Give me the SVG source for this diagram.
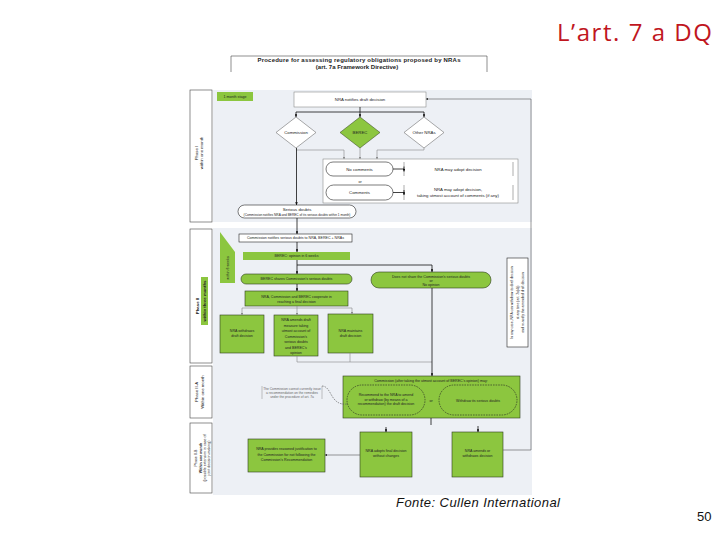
<svg xmlns="http://www.w3.org/2000/svg" width="720" height="540" viewBox="0 0 720 540">
<style>
.t{font-family:"Liberation Sans",Arial,sans-serif;fill:#222;text-anchor:middle}
.s{font-size:4.3px}
.xs{font-size:3.6px}
.g{fill:#8cc63f;stroke:#2e3d1c;stroke-width:0.6}
.gn{fill:#8cc63f}
.w{fill:#fff;stroke:#777;stroke-width:0.5}
.wk{fill:#fff;stroke:#222;stroke-width:0.6}
.ph{fill:#fff;stroke:#444;stroke-width:0.6}
.ln{fill:none;stroke:#111;stroke-width:0.8}
.gl{fill:none;stroke:#888;stroke-width:0.6}
.dash{fill:none;stroke:#222;stroke-width:0.6;stroke-dasharray:1.6 1}
</style>
<defs>
<marker id="a" viewBox="0 0 6 6" refX="6" refY="3" markerWidth="3.5" markerHeight="3.5" orient="auto"><path d="M0,0 L6,3 L0,6 z" fill="#111"/></marker>
<marker id="ag" viewBox="0 0 6 6" refX="6" refY="3" markerWidth="3.5" markerHeight="3.5" orient="auto"><path d="M0,0 L6,3 L0,6 z" fill="#777"/></marker>
</defs>
<rect width="720" height="540" fill="#fff"/>
<text x="557" y="41" font-family="Open Sans,Liberation Sans,sans-serif" font-size="24" fill="#c0161e" textLength="155">L’art. 7 a DQ</text>

<g id="title">
<path d="M231,72 V56 H487 V72" fill="#fff" stroke="#444" stroke-width="0.6"/>
<text class="t" x="359" y="61.5" font-size="6" font-weight="bold" textLength="203">Procedure for assessing regulatory obligations proposed by NRAs</text>
<text class="t" x="357" y="69" font-size="6" font-weight="bold">(art. 7a  Framework Directive)</text>
</g>

<g id="panel">
<rect x="213" y="90" width="319" height="132" fill="#edf0f5"/>
<rect x="213" y="228" width="319" height="267" fill="#edf0f5"/>
</g>

<g id="phase1">
<rect class="ph" x="190" y="90" width="22" height="132"/>
<text class="t s" transform="translate(198,153) rotate(-90)">Phase I</text>
<text class="t s" transform="translate(203,153) rotate(-90)">within one month</text>
</g>
<g id="phase2">
<rect class="ph" x="190" y="229" width="22" height="134"/>
<rect class="gn" x="201" y="277" width="7" height="48"/>
<text class="t s" transform="translate(198.5,306) rotate(-90)" font-weight="bold">Phase II</text>
<text class="t s" transform="translate(206,301) rotate(-90)" font-weight="bold">within three months</text>
</g>
<g id="phase2a">
<rect class="ph" x="190" y="366" width="22" height="52"/>
<text class="t s" transform="translate(198,392) rotate(-90)">Phase II-A</text>
<text class="t s" transform="translate(204,392) rotate(-90)">Within one month</text>
</g>
<g id="phase2b">
<rect class="ph" x="190" y="423" width="22" height="70"/>
<text class="t xs" transform="translate(197,458) rotate(-90)">Phase II-B</text>
<text class="t xs" transform="translate(201.5,458) rotate(-90)" font-weight="bold">Within one month</text>
<text class="t xs" transform="translate(206,458) rotate(-90)">(possible extension in case of</text>
<text class="t xs" transform="translate(210,458) rotate(-90)">joint decision-making)</text>
</g>

<g id="stage">
<rect class="gn" x="217" y="92" width="36" height="9"/>
<text class="t xs" x="235" y="98">1 month stage</text>
</g>
<g id="nra-notifies">
<rect class="w" x="294" y="92" width="132" height="15"/>
<text class="t s" x="360" y="101">NRA notifies draft decision</text>
</g>
<g id="commission">
<polygon points="296,117 316,132.5 296,148 276,132.5" fill="#fff" stroke="#555" stroke-width="0.5" stroke-linejoin="round"/>
<text class="t s" x="296" y="134">Commission</text>
</g>
<g id="berec">
<polygon points="360,117 380,132.5 360,148 340,132.5" fill="#8cc63f" stroke="#2e3d1c" stroke-width="0.5" stroke-linejoin="round"/>
<text class="t s" x="360" y="134">BEREC</text>
</g>
<g id="other-nras">
<polygon points="424,117 444,132.5 424,148 404,132.5" fill="#fff" stroke="#555" stroke-width="0.5" stroke-linejoin="round"/>
<text class="t s" x="424" y="134">Other NRAs</text>
</g>
<g id="comments-container">
<rect class="w" x="323" y="159" width="195" height="44"/>
</g>
<g id="no-comments">
<rect class="wk" x="326" y="162" width="67" height="14" rx="7"/>
<text class="t s" x="359.5" y="170.5">No comments</text>
</g>
<g id="adopt1">
<rect x="404" y="162" width="109" height="14" fill="#fff"/>
<path d="M404,162 V176 M513,162 V176" stroke="#777" stroke-width="0.6"/>
<text class="t s" x="458" y="170.5">NRA may adopt decision</text>
</g>
<text class="t xs" x="360" y="183">or</text>
<g id="comments">
<rect class="wk" x="326" y="185" width="67" height="15" rx="7.5"/>
<text class="t s" x="359.5" y="194">Comments</text>
</g>
<g id="adopt2">
<rect x="404" y="185" width="109" height="15" fill="#fff"/>
<path d="M404,185 V200 M513,185 V200" stroke="#777" stroke-width="0.6"/>
<text class="t s" x="458" y="191">NRA may adopt decision,</text>
<text class="t s" x="458" y="197">taking utmost account of comments (if any)</text>
</g>
<g id="serious-doubts">
<rect class="wk" x="238" y="205" width="118" height="13" rx="6.5"/>
<text class="t s" x="297" y="210.5">Serious doubts</text>
<text class="t" x="297" y="215.5" font-size="3.2">(Commission notifies NRA and BEREC of its serious doubts within 1 month)</text>
</g>

<g id="cooperation-period">
<polygon class="gn" points="220,232 235,252 235,283 220,283"/>
<text class="t xs" transform="translate(229,268) rotate(-90)">within 6 weeks</text>
</g>
<g id="commission-notifies">
<rect class="wk" x="239" y="234" width="113" height="8"/>
<text class="t xs" x="295.5" y="239.3">Commission notifies serious doubts to NRA, BEREC + NRAs</text>
</g>
<g id="berec-opinion">
<rect class="gn" x="243" y="252" width="107" height="8"/>
<text class="t xs" x="296.5" y="257.3">BEREC: opinion in 6 weeks</text>
</g>
<g id="berec-shares">
<rect class="g" x="241" y="274" width="111" height="10" rx="5"/>
<text class="t xs" x="296.5" y="280.3">BEREC shares Commission's serious doubts</text>
</g>
<g id="berec-not-share">
<rect class="g" x="371" y="272" width="120" height="16" rx="8"/>
<text class="t xs" x="431" y="277.5">Does not share the Commission's serious doubts</text>
<text class="t xs" x="431" y="281.7">or</text>
<text class="t xs" x="431" y="286">No opinion</text>
</g>
<g id="cooperate">
<rect class="g" x="245" y="291" width="103" height="15"/>
<text class="t xs" x="296.5" y="297.5">NRA, Commission and BEREC cooperate in</text>
<text class="t xs" x="296.5" y="302.5">reaching a final decision</text>
</g>
<g id="withdraws">
<rect class="g" x="220" y="315" width="44" height="38"/>
<text class="t xs" x="242" y="332">NRA withdraws</text>
<text class="t xs" x="242" y="337">draft decision</text>
</g>
<g id="amends">
<rect class="g" x="274" y="315" width="44" height="41"/>
<text class="t xs" x="296" y="321">NRA amends draft</text>
<text class="t xs" x="296" y="326.5">measure taking</text>
<text class="t xs" x="296" y="332">utmost account of</text>
<text class="t xs" x="296" y="337.5">Commission's</text>
<text class="t xs" x="296" y="343">serious doubts</text>
<text class="t xs" x="296" y="348.5">and BEREC's</text>
<text class="t xs" x="296" y="354">opinion</text>
</g>
<g id="maintains">
<rect class="g" x="328" y="314" width="45" height="39"/>
<text class="t xs" x="350.5" y="332">NRA maintains</text>
<text class="t xs" x="350.5" y="337">draft decision</text>
</g>
<g id="note">
<rect class="wk" x="507" y="258" width="21" height="89"/>
<text class="t" font-size="3.4" transform="translate(513,302.5) rotate(-90)">In any case, NRA can withdraw its draft decision</text>
<text class="t" font-size="3.4" transform="translate(518.5,302.5) rotate(-90)">at any time (art. 7a(4))</text>
<text class="t" font-size="3.4" transform="translate(524,302.5) rotate(-90)">and re-notify the amended draft decision</text>
</g>

<g id="commission-may">
<rect class="g" x="343" y="376" width="177" height="42"/>
<text class="t xs" x="431" y="381.5">Commission (after taking the utmost account of BEREC's opinion) may:</text>
<rect class="dash" x="347" y="385" width="78" height="30" rx="15"/>
<text class="t xs" x="386" y="396">Recommend to the NRA to amend</text>
<text class="t xs" x="386" y="400.5">or withdraw (by means of a</text>
<text class="t xs" x="386" y="405">recommendation) the draft decision</text>
<text class="t xs" x="431" y="402">or</text>
<rect class="dash" x="439" y="385" width="78" height="30" rx="15"/>
<text class="t xs" x="478" y="401.5">Withdraw its serious doubts</text>
</g>
<g id="callout">
<path d="M262,386 V399 M322,386 V399" stroke="#888" stroke-width="0.5"/>
<text class="t" font-size="3.3" fill="#666" x="292" y="389.5" style="fill:#666">The Commission cannot currently issue</text>
<text class="t" font-size="3.3" x="292" y="393.5" style="fill:#666">a recommendation on the remedies</text>
<text class="t" font-size="3.3" x="292" y="397.5" style="fill:#666">under the procedure of art. 7a</text>
<path class="dash" d="M322,386 C332,386 330,406 347,404" style="stroke:#555"/>
</g>
<g id="justification">
<rect class="g" x="248" y="439" width="77" height="33"/>
<text class="t xs" x="286.5" y="450">NRA provides reasoned justification to</text>
<text class="t xs" x="286.5" y="455.5">the Commission for not following the</text>
<text class="t xs" x="286.5" y="461">Commission's Recommendation</text>
</g>
<g id="adopts">
<rect class="g" x="360" y="432" width="52" height="45"/>
<text class="t xs" x="386" y="452">NRA adopts final decision</text>
<text class="t xs" x="386" y="457">without changes</text>
</g>
<g id="amends-withdraws">
<rect class="g" x="452" y="432" width="51" height="45"/>
<text class="t xs" x="477.5" y="452">NRA amends or</text>
<text class="t xs" x="477.5" y="457">withdraws decision</text>
</g>

<g id="connectors">
<path class="ln" d="M360,107 V112 M296,112 H424"/>
<path class="ln" d="M296,112 V117" marker-end="url(#a)"/>
<path class="ln" d="M360,112 V117" marker-end="url(#a)"/>
<path class="ln" d="M424,112 V117" marker-end="url(#a)"/>
<path class="gl" d="M296,150 H344 V159" marker-end="url(#ag)"/>
<path class="gl" d="M360,148 V159" marker-end="url(#ag)"/>
<path class="gl" d="M424,148 V150 H377 V159" marker-end="url(#ag)"/>
<path class="ln" d="M393,169 H404 M404,166.5 V171.5" marker-end="url(#a)"/>
<path class="ln" d="M393,192.5 H404 M404,190 V195" marker-end="url(#a)"/>
<path class="ln" d="M296.5,148 V205" stroke-width="1" marker-end="url(#a)"/>
<path class="ln" d="M297,218 V234" stroke-width="1" marker-end="url(#a)"/>
<path class="ln" d="M297,242 V252" marker-end="url(#a)"/>
<path class="ln" d="M297,260 V274" marker-end="url(#a)"/>
<path class="ln" d="M297,265 H432 V272" marker-end="url(#a)"/>
<path class="ln" d="M297,284 V291" marker-end="url(#a)"/>
<path class="gl" d="M242,308 H352"/>
<path class="gl" d="M242,308 V315" marker-end="url(#ag)"/>
<path class="gl" d="M297,306 V315" marker-end="url(#ag)"/>
<path class="gl" d="M352,308 V314" marker-end="url(#ag)"/>
<path class="gl" d="M297,356 V362 H432 M350,353 V362"/>
<path class="ln" d="M432,288 V376" marker-end="url(#a)"/>
<path class="ln" d="M431,418 V425"/>
<path class="ln" d="M386,427 V432" marker-end="url(#a)"/>
<path class="ln" d="M478,426 V432" stroke-width="1" marker-end="url(#a)"/>
<path class="gl" d="M360,455 H325" style="stroke:#555" marker-end="url(#a)"/>
<path class="gl" d="M503,450 H531 V99 H426" style="stroke:#555" marker-end="url(#a)"/>
</g>

<text x="396" y="507" font-family="Liberation Sans,Arial,sans-serif" font-size="13" font-style="italic" fill="#111" textLength="164">Fonte: Cullen International</text>
<text x="697" y="521" font-family="Liberation Sans,Arial,sans-serif" font-size="13" fill="#111">50</text>
</svg>
